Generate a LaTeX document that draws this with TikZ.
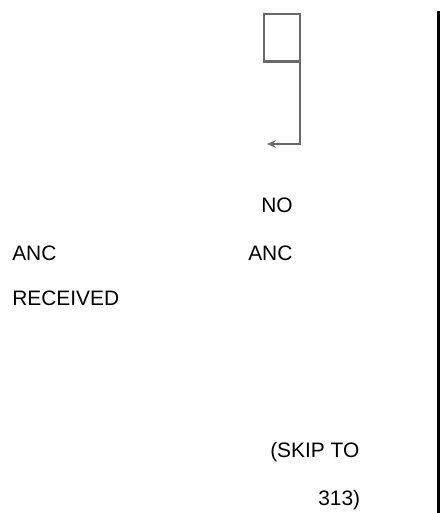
\documentclass[tikz,border=0pt]{standalone}
\usepackage{fontspec}
\setmainfont{Liberation Sans}
\usetikzlibrary{arrows.meta}
\definecolor{linegray}{RGB}{105,105,105}
\begin{document}
\begin{tikzpicture}[x=0.75pt,y=-0.75pt,
  lbl/.style={anchor=base west,inner sep=0pt,font=\fontsize{15.7}{18}\selectfont},
  glines/.style={draw=linegray,line width=1.8pt}]
\useasboundingbox (0,0) rectangle (440,513);
\draw[glines] (264,14) rectangle (300,62);
\draw[draw=linegray,line width=2.8pt] (264,61.5) -- (300,61.5);
\draw[glines,-{Stealth[length=6.5pt,width=5.5pt]}] (300,62) -- (300,144) -- (267,144);
\draw[black,line width=1.6pt] (438.5,11) -- (438.5,513);
\node[lbl] (no) at (261,212) {NO};
\node[lbl] (ancl) at (12,260) {ANC};
\node[lbl] (ancr) at (248,260) {ANC};
\node[lbl] (rec) at (12,305) {RECEIVED};
\node[lbl] (skip) at (270,457) {(SKIP TO};
\node[lbl] (num) at (318,505) {313)};
\end{tikzpicture}
\end{document}
